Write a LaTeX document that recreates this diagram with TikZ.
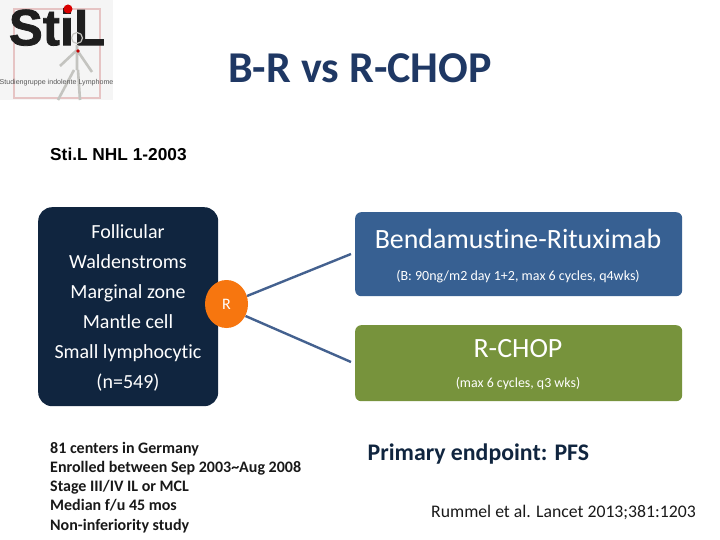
\documentclass[tikz,border=0pt]{standalone}
\usepackage{fontspec}
\setmainfont{Carlito}[Ligatures={NoCommon,TeX}]
\newfontfamily\arialf{Liberation Sans}
\newfontfamily\logof{Liberation Sans}[BoldFeatures={FakeBold=1.5}]
\usetikzlibrary{shapes.geometric}
\definecolor{navy}{HTML}{10253F}
\definecolor{bluebox}{HTML}{376092}
\definecolor{greenbox}{HTML}{77933C}
\definecolor{orng}{HTML}{F7760F}
\definecolor{conn}{HTML}{44618F}
\definecolor{titleblue}{HTML}{1F3864}
\definecolor{logopink}{HTML}{E6C4C4}
\definecolor{logogray}{HTML}{C4C4C0}
\tikzset{
  x=1pt,y=-1pt,
  armbox/.style={draw=none,rounded corners=6pt,anchor=north west,inner sep=0pt},
  toptext/.style={text=white,font=\fontsize{27.9}{30}\selectfont,inner sep=0pt,anchor=base},
  subtext/.style={text=white,inner sep=0pt,anchor=base},
  note/.style={inner sep=0pt,anchor=base west,text=black!90},
  notesmall/.style={note,font=\bfseries\fontsize{16}{18}\selectfont},
  connector/.style={draw=conn,line width=2.4pt},
  listline/.style={text=white,font=\fontsize{20}{22}\selectfont,inner sep=0pt,anchor=base}
}
\begin{document}
\begin{tikzpicture}
\useasboundingbox (0,0) rectangle (720,540);
\fill[white] (0,0) rectangle (720,540);
% logo
\fill[black!4] (0,0) rectangle (113,100);
\draw[logopink,line width=1.2pt] (14,9) rectangle (100,98);
\node[inner sep=0pt,anchor=center,font=\logof\bfseries\fontsize{51}{52}\selectfont,text=black!88] (logoword) at (57,27) {StiL};
\fill[red!85!black] (68,9) circle (4.5);
\draw[logogray,line width=2.6pt] (77,45) -- (77,70) (77,50) -- (60,66) (77,50) -- (92,72) (74,70) -- (58,100) (78,70) -- (80,100);
\draw[logogray,line width=1.2pt] (77,38) circle (5.5);
\fill[red!75!black] (78,51) circle (1.8);
\node[inner sep=0pt,font=\arialf\fontsize{7.1}{8}\selectfont,text=black!65] (logosub) at (56.5,83) {Studiengruppe indolente Lymphome};
% title
\node[inner sep=0pt,text=titleblue,font=\bfseries\fontsize{44}{48}\selectfont] (title) at (360,68) {B-R vs R-CHOP};
\node[inner sep=0pt,anchor=base west,font=\arialf\bfseries\fontsize{17.3}{20}\selectfont] (study) at (50,160.5) {Sti.L NHL 1-2003};
% population box
\node[armbox,fill=navy,rounded corners=14pt,minimum width=180pt,minimum height=199pt] (pop) at (38,207) {};
\node[listline] (l1) at (128,238) {Follicular};
\node[listline] (l2) at (128,268) {Waldenstroms};
\node[listline] (l3) at (128,298) {Marginal zone};
\node[listline] (l4) at (128,328) {Mantle cell};
\node[listline] (l5) at (128,358) {Small lymphocytic};
\node[listline] (l6) at (128,388) {(n=549)};
% arms
\node[armbox,fill=bluebox,minimum width=327pt,minimum height=84pt] (armb) at (355,212) {};
\node[armbox,fill=greenbox,minimum width=327pt,minimum height=76pt] (armr) at (355,325) {};
\node[toptext] (tb) at (518,248.3) {Bendamustine-Rituximab};
\node[subtext,font=\fontsize{14}{16}\selectfont] (sb) at (518,280) {(B: 90ng/m2 day 1+2, max 6 cycles, q4wks)};
\node[toptext] (tr) at (518,357.3) {R-CHOP};
\node[subtext,font=\fontsize{13.9}{16}\selectfont] (sr) at (518,387.7) {(max 6 cycles, q3 wks)};
% R node
\node[ellipse,fill=orng,text=white,minimum width=43pt,minimum height=48pt,inner sep=0pt,font=\fontsize{16}{18}\selectfont] (rnd) at (226.5,304) {R};
\coordinate (endb) at (351,254);
\coordinate (endr) at (351,362);
\path (rnd) ++(20.5,-8) coordinate (startb);
\path (rnd) ++(19,12) coordinate (startr);
\draw[connector] (startb) -- (endb);
\draw[connector] (startr) -- (endr);
% notes
\node[notesmall] (n1) at (50,453) {81 centers in Germany};
\node[notesmall] (n2) at (50,472.2) {Enrolled between Sep 2003\textasciitilde Aug 2008};
\node[notesmall] (n3) at (50,491.4) {Stage III/IV IL or MCL};
\node[notesmall] (n4) at (50,510.8) {Median f/u 45 mos};
\node[notesmall] (n5) at (50,530) {Non-inferiority study};
\node[note,text=navy,font=\bfseries\fontsize{23.8}{26}\selectfont] (pe) at (367.5,460.5) {Primary endpoint: PFS};
\node[note,font=\fontsize{17.7}{20}\selectfont] (ref) at (431,517) {Rummel et al. Lancet 2013;381:1203};
\end{tikzpicture}
\end{document}
